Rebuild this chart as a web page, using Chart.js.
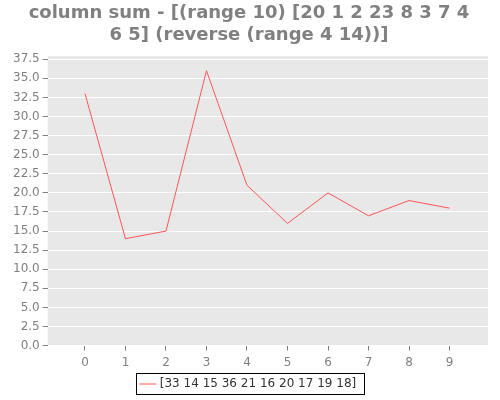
<!DOCTYPE html>
<html>
<head>
<meta charset="utf-8">
<script src="https://cdn.jsdelivr.net/npm/chart.js@4.4.1/dist/chart.umd.min.js"></script>
<style>
  html, body { margin: 0; padding: 0; background: #ffffff; }
  #wrap { width: 500px; height: 400px; }
</style>
</head>
<body>
<div id="wrap"><canvas id="chart" width="500" height="400"></canvas></div>
<script>
// data
const categories = [0, 1, 2, 3, 4, 5, 6, 7, 8, 9];
const columnSums = [33, 14, 15, 36, 21, 16, 20, 17, 19, 18];
const yTicks = [0, 2.5, 5, 7.5, 10, 12.5, 15, 17.5, 20, 22.5, 25, 27.5, 30, 32.5, 35, 37.5];
const seriesLabel = "[33 14 15 36 21 16 20 17 19 18]";
const titleLines = ["column sum - [(range 10) [20 1 2 23 8 3 7 4", "6 5] (reverse (range 4 14))]"];

const points = categories.map((c, i) => ({ x: c, y: columnSums[i] }));

// gray plot background
const plotBackground = {
    id: "plotBackground",
    beforeDraw(chart) {
        const { ctx, chartArea } = chart;
        ctx.save();
        ctx.fillStyle = "#e8e8e8";
        ctx.fillRect(chartArea.left, chartArea.top, chartArea.right - chartArea.left, chartArea.bottom - chartArea.top);
        ctx.restore();
    }
};

// black frame around the legend
const legendFrame = {
    id: "legendFrame",
    afterDraw(chart) {
        const boxes = chart.legend && chart.legend.legendHitBoxes;
        if (!boxes || !boxes.length) return;
        const b = boxes[0];
        const ctx = chart.ctx;
        ctx.save();
        ctx.strokeStyle = "#000000";
        ctx.lineWidth = 1;
        ctx.strokeRect(Math.round(b.left) - 5.5, Math.round(b.top) - 4.5, Math.round(b.width) + 14, Math.round(b.height) + 9);
        ctx.restore();
    }
};

new Chart(document.getElementById("chart"), {
    type: "line",
    data: {
        datasets: [{
            label: seriesLabel,
            data: points,
            borderColor: "#ff5555",
            backgroundColor: "#ff5555",
            borderWidth: 1,
            pointRadius: 0,
            tension: 0,
            fill: false
        }]
    },
    plugins: [plotBackground, legendFrame],
    options: {
        responsive: false,
        animation: false,
        layout: { padding: { left: 10, right: 12, top: 0, bottom: 0 } },
        plugins: {
            title: {
                display: true,
                text: titleLines,
                color: "#808080",
                font: { family: "DejaVu Sans", size: 18, weight: "bold", lineHeight: 1.2 },
                padding: { top: 3, bottom: 10 }
            },
            legend: {
                position: "bottom",
                labels: {
                    color: "#333333",
                    font: { family: "DejaVu Sans", size: 12 },
                    usePointStyle: true,
                    pointStyle: "line",
                    boxWidth: 15,
                    padding: 3
                }
            },
            tooltip: { enabled: false }
        },
        scales: {
            x: {
                type: "linear",
                min: -0.92,
                max: 9.95,
                afterBuildTicks: (scale) => { scale.ticks = categories.map(v => ({ value: v })); },
                border: { display: false },
                grid: { drawOnChartArea: false, drawTicks: true, tickLength: 5, tickColor: "#808080" },
                ticks: { color: "#808080", font: { family: "DejaVu Sans", size: 12 }, padding: 5, maxRotation: 0 }
            },
            y: {
                min: 0,
                max: 37.9,
                afterBuildTicks: (scale) => { scale.ticks = yTicks.map(v => ({ value: v })); },
                border: { display: false },
                grid: { color: "#ffffff", lineWidth: 1, drawTicks: true, tickLength: 5, tickColor: "#808080" },
                ticks: {
                    color: "#808080",
                    font: { family: "DejaVu Sans", size: 12 },
                    padding: 3,
                    callback: (v) => Number(v).toFixed(1)
                }
            }
        }
    }
});
</script>
</body>
</html>
